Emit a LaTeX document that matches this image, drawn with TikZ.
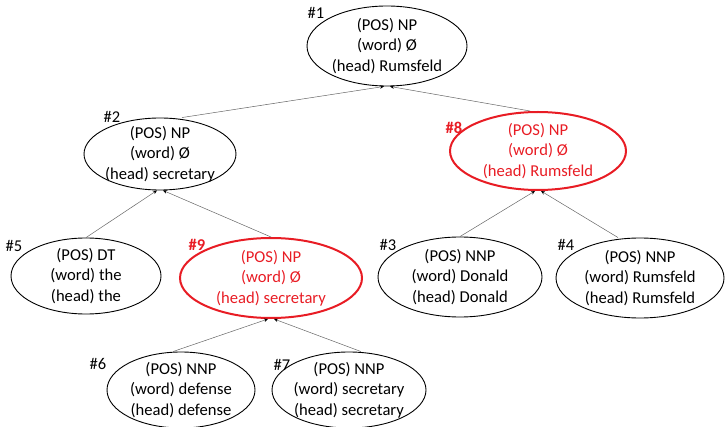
\documentclass[tikz,border=0pt]{standalone}
\usepackage{fontspec}
\setmainfont{Carlito}
\usetikzlibrary{shapes.geometric,arrows.meta}
\definecolor{hred}{RGB}{232,28,36}
\begin{document}
\begin{tikzpicture}[x=1pt,y=-1pt,
  el/.style={ellipse,draw=black,line width=0.9pt,inner sep=0pt},
  hl/.style={el,draw=hred,line width=2pt},
  txt/.style={inner sep=0pt,align=center,font=\fontsize{16.6}{20.3}\selectfont},
  htxt/.style={txt,text=hred},
  tag/.style={font=\fontsize{16.5}{18}\selectfont,anchor=center},
  htag/.style={tag,text=hred,font=\fontsize{16.5}{18}\selectfont\bfseries},
  ln/.style={draw=black!60,line width=0.5pt,-{Stealth[length=4pt,width=3.5pt,black]}}]
\useasboundingbox (0,0) rectangle (727,427);
\begin{scope}
\clip (0,0) rectangle (727,427);
\node[el,minimum width=160,minimum height=80] (n1) at (387,46) {};
\node[el,minimum width=152,minimum height=72] (n2) at (160,154) {};
\node[hl,minimum width=176,minimum height=78] (n8) at (538,151) {};
\node[el,minimum width=150,minimum height=76] (n5) at (86,276) {};
\node[hl,minimum width=182,minimum height=80] (n9) at (271,278) {};
\node[el,minimum width=164,minimum height=80] (n3) at (460,277) {};
\node[el,minimum width=168,minimum height=80] (n4) at (640,278) {};
\node[el,minimum width=148,minimum height=76] (n6) at (181,390) {};
\node[el,minimum width=154,minimum height=76] (n7) at (349,390) {};
\end{scope}
\node[txt] (n1t) at (n1) {(POS) NP\\(word) Ø\\(head) Rumsfeld};
\node[txt] (n2t) at (n2) {(POS) NP\\(word) Ø\\(head) secretary};
\node[htxt] (n8t) at (n8) {(POS) NP\\(word) Ø\\(head) Rumsfeld};
\node[txt] (n5t) at (n5) {(POS) DT\\(word) the\\(head) the};
\node[htxt] (n9t) at (n9) {(POS) NP\\(word) Ø\\(head) secretary};
\node[txt] (n3t) at (n3) {(POS) NNP\\(word) Donald\\(head) Donald};
\node[txt] (n4t) at (n4) {(POS) NNP\\(word) Rumsfeld\\(head) Rumsfeld};
\node[txt] (n6t) at (n6) {(POS) NNP\\(word) defense\\(head) defense};
\node[txt] (n7t) at (n7) {(POS) NNP\\(word) secretary\\(head) secretary};
\node[tag] (t1) at (316,13) {\#1};
\node[tag] (t2) at (112,117) {\#2};
\node[htag] (t8) at (454,128) {\#8};
\node[tag] (t5) at (14,246) {\#5};
\node[htag] (t9) at (197,245) {\#9};
\node[tag] (t3) at (388,245) {\#3};
\node[tag] (t4) at (566,245) {\#4};
\node[tag] (t6) at (98,364) {\#6};
\node[tag] (t7) at (282,365) {\#7};
\draw[ln] ([xshift=22]n2.north) -- ([xshift=-3]n1.south);
\draw[ln] ([xshift=-8]n8.north) -- ([xshift=3]n1.south);
\draw[ln] (n5.north) -- ([xshift=-3]n2.south);
\draw[ln] (n9.north) -- ([xshift=3]n2.south);
\draw[ln] (n3.north) -- ([xshift=-3]n8.south);
\draw[ln] ([xshift=-22]n4.north) -- ([xshift=3]n8.south);
\draw[ln] ([xshift=-8]n6.north) -- ([xshift=-3]n9.south);
\draw[ln] ([xshift=12]n7.north) -- ([xshift=3]n9.south);
\end{tikzpicture}
\end{document}
